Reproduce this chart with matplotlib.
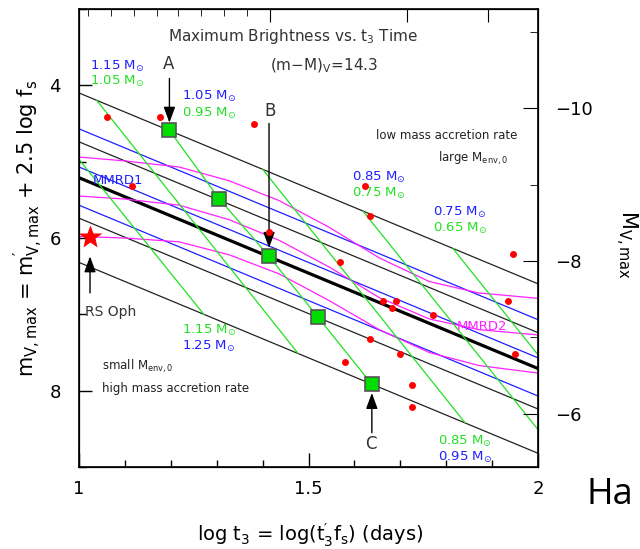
import matplotlib
matplotlib.use('Agg')
import matplotlib.pyplot as plt
from matplotlib.ticker import FixedLocator, MultipleLocator

plt.rcParams['font.family'] = ['DejaVu Sans']
plt.rcParams['mathtext.default'] = 'regular'

# axis ranges (log t3, apparent mag), distance modulus
x_range = (1.0, 2.0)
m_range = (9.0, 3.0)
dist_mod = 14.3

# straight lines, values at log t3 = 1 and 2
line_x = [1.0, 2.0]
black_m = [[4.10, 6.60], [4.74, 7.24], [5.74, 8.24], [6.32, 8.82]]
thick_m = [5.21, 7.71]
blue_m = [[4.57, 7.07], [5.07, 7.57], [5.57, 8.07]]

# magenta curves
mag_x = [1.0, 1.1, 1.218, 1.327, 1.436, 1.545, 1.654, 1.763, 1.871, 2.0]
mag_m = [
    [4.94, 4.99, 5.07, 5.25, 5.51, 5.86, 6.26, 6.57, 6.72, 6.79],
    [5.45, 5.49, 5.57, 5.76, 6.03, 6.38, 6.78, 7.06, 7.20, 7.27],
    [5.98, 6.00, 6.05, 6.22, 6.47, 6.82, 7.20, 7.50, 7.67, 7.77],
]

# green squares (A, -, B, -, C)
sq_x = [1.197, 1.306, 1.414, 1.521, 1.638]
sq_m = [4.59, 5.49, 6.24, 7.04, 7.915]

# green lines
green_x = [[1.0, 1.272], [1.039, 1.477], sq_x, [1.40, 1.841], [1.619, 2.0], [1.815, 2.0]]
green_m = [[4.97, 7.00], [4.20, 7.51], sq_m, [5.10, 8.42], [5.65, 8.51], [6.14, 7.53]]

# observed novae
red_x = [1.060, 1.176, 1.381, 1.115, 1.415, 1.623, 1.634, 1.569, 1.946, 1.663,
         1.690, 1.681, 1.935, 1.772, 1.634, 1.699, 1.580, 1.950, 1.725, 1.725]
red_m = [4.41, 4.41, 4.50, 5.32, 5.92, 5.32, 5.71, 6.31, 6.21, 6.82,
         6.82, 6.92, 6.82, 7.01, 7.32, 7.52, 7.63, 7.52, 7.92, 8.22]

rsoph_x, rsoph_m = 1.024, 5.99

top_major = [1.416, 1.715, 1.891]
top_minor = [1.02, 1.07, 1.12, 1.17, 1.215, 1.265, 1.315, 1.365]

BLUE = '#1f1fff'
GREEN = '#22e022'
MAG = '#ff22ff'

fig = plt.figure(figsize=(6.4, 5.49), dpi=100)
ax = fig.add_axes([79/640, 1-467/549, 459/640, 458/549])

for mm in black_m:
    ax.plot(line_x, mm, color='#222222', lw=0.9)
ax.plot(line_x, thick_m, color='black', lw=2.3)
for mm in blue_m:
    ax.plot(line_x, mm, color=BLUE, lw=0.9)
for mm in mag_m:
    ax.plot(mag_x, mm, color=MAG, lw=0.9)
for gx, gm in zip(green_x, green_m):
    ax.plot(gx, gm, color=GREEN, lw=0.9)

ax.plot(red_x, red_m, 'o', color='red', ms=5, mec='none', zorder=5)
ax.plot(sq_x, sq_m, 's', color='#00dd00', ms=10, mec='#555555', mew=1.2, zorder=6)
ax.plot([rsoph_x], [rsoph_m], '*', color='red', ms=18, mec='none', zorder=6, clip_on=False)

# arrows
aprops = dict(arrowstyle='-|>,head_length=0.6,head_width=0.22', color='black', lw=1,
              mutation_scale=16, shrinkA=0, shrinkB=0)
ax.annotate('', xy=(1.197, 4.49), xytext=(1.197, 3.91), arrowprops=aprops)
ax.annotate('', xy=(1.414, 6.13), xytext=(1.414, 4.50), arrowprops=aprops)
ax.annotate('', xy=(1.638, 8.03), xytext=(1.638, 8.55), arrowprops=aprops)
ax.annotate('', xy=(1.024, 6.24), xytext=(1.024, 6.72), arrowprops=aprops)

tc = '#333333'
ax.text(1.196, 3.72, 'A', ha='center', va='center', fontsize=12, color=tc)
ax.text(1.416, 4.34, 'B', ha='center', va='center', fontsize=12, color=tc)
ax.text(1.636, 8.70, 'C', ha='center', va='center', fontsize=12, color=tc)
ax.text(1.013, 6.97, 'RS Oph', ha='left', va='center', fontsize=10, color=tc)

ax.text(1.466, 3.36, 'Maximum Brightness vs. t$_3$ Time', ha='center', va='center',
        fontsize=11, color=tc)
ax.text(1.534, 3.74, '(m$-$M)$_V$=14.3', ha='center', va='center', fontsize=11, color=tc)

msun = ' M$_{\\odot}$'
labels = [
    (1.024, 3.75, '1.15' + msun, BLUE), (1.024, 3.95, '1.05' + msun, GREEN),
    (1.224, 4.145, '1.05' + msun, BLUE), (1.224, 4.37, '0.95' + msun, GREEN),
    (1.595, 5.21, '0.85' + msun, BLUE), (1.595, 5.42, '0.75' + msun, GREEN),
    (1.771, 5.67, '0.75' + msun, BLUE), (1.771, 5.88, '0.65' + msun, GREEN),
    (1.224, 7.21, '1.15' + msun, GREEN), (1.224, 7.42, '1.25' + msun, BLUE),
    (1.782, 8.67, '0.85' + msun, GREEN), (1.782, 8.87, '0.95' + msun, BLUE),
]
for lx, ly, s, c in labels:
    ax.text(lx, ly, s, ha='left', va='center', fontsize=9.5, color=c)

ax.text(1.03, 5.25, 'MMRD1', ha='left', va='center', fontsize=9.5, color=BLUE)
ax.text(1.824, 7.16, 'MMRD2', ha='left', va='center', fontsize=9.5, color=MAG)

ax.text(1.956, 4.66, 'low mass accretion rate', ha='right', va='center', fontsize=8.5, color='#222222')
ax.text(1.935, 4.96, 'large M$_{env,0}$', ha='right', va='center', fontsize=8.5, color='#222222')
ax.text(1.05, 7.68, 'small M$_{env,0}$', ha='left', va='center', fontsize=8.5, color='#222222')
ax.text(1.05, 7.97, 'high mass accretion rate', ha='left', va='center', fontsize=8.5, color='#222222')

ax.set_xlim(*x_range)
ax.set_ylim(*m_range)
ax.xaxis.set_major_locator(FixedLocator([1.0, 1.5, 2.0]))
ax.xaxis.set_minor_locator(MultipleLocator(0.1))
ax.yaxis.set_major_locator(FixedLocator([4, 6, 8]))
ax.yaxis.set_minor_locator(MultipleLocator(1))
ax.set_xticklabels(['1', '1.5', '2'])
ax.tick_params(which='both', direction='in', top=False, right=False, labelsize=13, width=1)
ax.tick_params(axis='x', which='major', length=10, pad=9)
ax.tick_params(axis='y', which='major', length=9, pad=13)
ax.tick_params(which='minor', length=5)
for sp in ax.spines.values():
    sp.set_linewidth(1.2)

axr = ax.twinx()
axr.set_ylim(m_range[0] - dist_mod, m_range[1] - dist_mod)
axr.yaxis.set_major_locator(FixedLocator([-10, -8, -6]))
axr.yaxis.set_minor_locator(MultipleLocator(1))
axr.tick_params(which='both', direction='in', labelsize=13)
axr.tick_params(which='major', length=11, pad=12)
axr.tick_params(which='minor', length=6)

axt = ax.twiny()
axt.set_xlim(*x_range)
axt.xaxis.set_major_locator(FixedLocator(top_major))
axt.xaxis.set_minor_locator(FixedLocator(top_minor))
axt.tick_params(which='both', direction='in', labeltop=False)
axt.tick_params(which='major', length=9)
axt.tick_params(which='minor', length=5)

fig.text(28/640, 1-228/549, '$m_{V,max}$ = $m^{\\prime}_{V,max}$ + 2.5 log f$_s$', rotation=90,
         ha='center', va='center', fontsize=15)
fig.text(310/640, 1-535/549, 'log t$_3$ = log($t^{\\prime}_3f_s$) (days)',
         ha='center', va='center', fontsize=14)
fig.text(626/640, 1-245/549, 'M$_{V,max}$', rotation=270, ha='center', va='center', fontsize=15)
fig.text(586/640, 1-495/549, 'Ha', ha='left', va='center', fontsize=26, family=['Open Sans', 'DejaVu Sans'])

fig.savefig('out.png', dpi=100)
